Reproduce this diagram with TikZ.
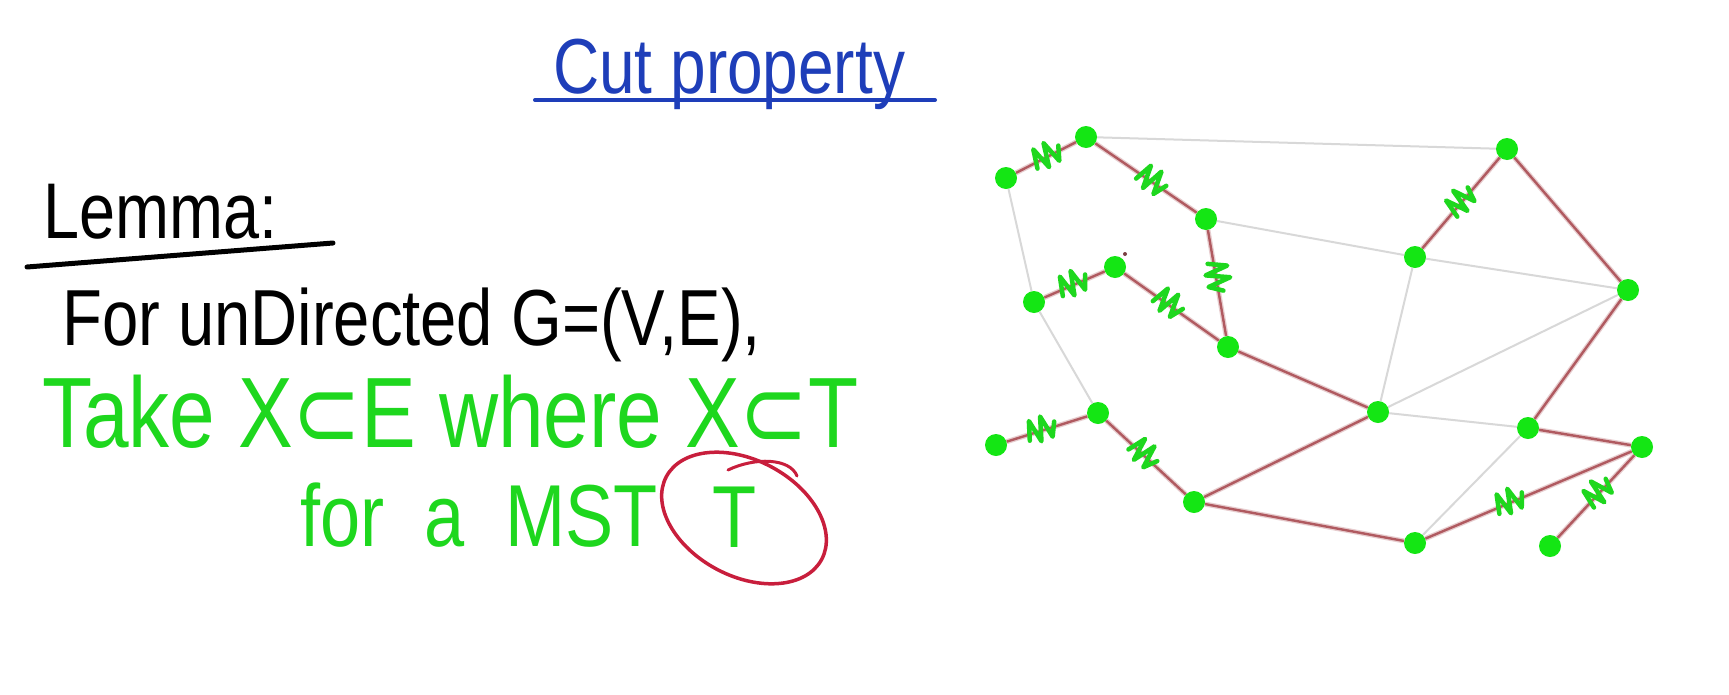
\documentclass[tikz,border=0pt]{standalone}
\usepackage{fontspec}
\setmainfont{Liberation Sans}[FakeStretch=0.82]
\newfontfamily\symfont{DejaVu Sans}[FakeStretch=0.82]
\usetikzlibrary{backgrounds}
\definecolor{pengreen}{RGB}{30,215,30}
\definecolor{dotgreen}{RGB}{20,230,20}
\definecolor{penblue}{RGB}{30,62,185}
\definecolor{penred}{RGB}{200,30,60}
\definecolor{mstred}{RGB}{176,90,96}
\definecolor{edgegray}{RGB}{216,216,216}
\newcommand{\subsetof}{{\symfont ⊂}}
\begin{document}
\begin{tikzpicture}[x=1pt,y=-1pt,line join=round,line cap=round]
	\tikzset{vert/.style={circle,fill=dotgreen,inner sep=0pt,minimum size=22pt},
		mst/.style={draw=mstred,line width=2.4pt,preaction={draw=mstred!30,line width=5pt}},
		nonmst/.style={draw=edgegray,line width=2pt},
		scribble/.style={draw=pengreen,line width=4.5pt},
		hand/.style={inner sep=0pt,anchor=base west},
		edgemark/.pic={\draw[scribble] (-14,6) -- (-9,-13) -- (-3,10) -- (3,-14) -- (9,9) -- (15,-5);}}
	\useasboundingbox (0,0) rectangle (1729,694);
	% left side: the lemma
	\node[hand,text=penblue,font=\fontsize{78}{90}\selectfont] (title) at (553,93) {Cut property};
	\draw[penblue,line width=4pt] (535,100) -- (935,100);
	\node[hand,font=\fontsize{79}{90}\selectfont] (lemma) at (43,238) {Lemma:};
	\draw[line width=5pt] (27,267) -- (333,243);
	\node[hand,font=\fontsize{79.5}{90}\selectfont] (graphline) at (62,345) {For unDirected G=(V,E),};
	\node[hand,text=pengreen,font=\fontsize{100}{110}\selectfont] (takeline) at (42,447) {Take X\subsetof E where X\subsetof T};
	\node[hand,text=pengreen,font=\fontsize{88}{100}\selectfont] (fora) at (300,546) {for\ \ a};
	\node[hand,text=pengreen,font=\fontsize{88}{100}\selectfont] (mst) at (505,546) {MST};
	\node[hand,text=pengreen,font=\fontsize{88}{100}\selectfont] (tree) at (712,547) {T};
	\coordinate (tc) at (744,518);
	\draw[penred,line width=3.5pt,rotate around={-28:(tc)}] (tc) ellipse [x radius=88pt,y radius=58pt];
	\draw[penred,line width=3pt] (728,470) .. controls (755,457) and (790,458) .. (797,476);
	% right side: the graph
	\foreach \n/\x/\y in {1/1006/178,2/1086/137,3/1206/219,4/1115/267,5/1034/302,6/1228/347,
		7/1507/149,8/1415/257,9/1628/290,10/1378/412,11/1528/428,12/1642/447,
		13/1415/543,14/1550/546,15/996/445,16/1098/413,17/1194/502}
	\node[vert] (v\n) at (\x,\y) {};
	\begin{pgfonlayer}{background}
		\fill[white] (0,0) rectangle (1729,694);
		\foreach \a/\b in {2/7,1/5,5/16,3/8,8/9,8/10,10/9,10/11,11/13}
		\draw[nonmst] (v\a) -- (v\b);
		\foreach \a/\b in {1/2,2/3,3/6,5/4,4/6,15/16,16/17,8/7,13/12,14/12,6/10,10/17,17/13,11/12,11/9,9/7}
		\draw[mst] (v\a) -- (v\b);
	\end{pgfonlayer}
	\foreach \a/\b/\p in {1/2/.52,2/3/.55,3/6/.44,5/4/.48,4/6/.46,15/16/.43,16/17/.46,8/7/.51,13/12/.41,14/12/.54}
	\path (v\a) -- (v\b) pic[pos=\p,sloped]{edgemark};
	\fill[mstred!70!black] (1125,254) circle (2pt);
\end{tikzpicture}
\end{document}
